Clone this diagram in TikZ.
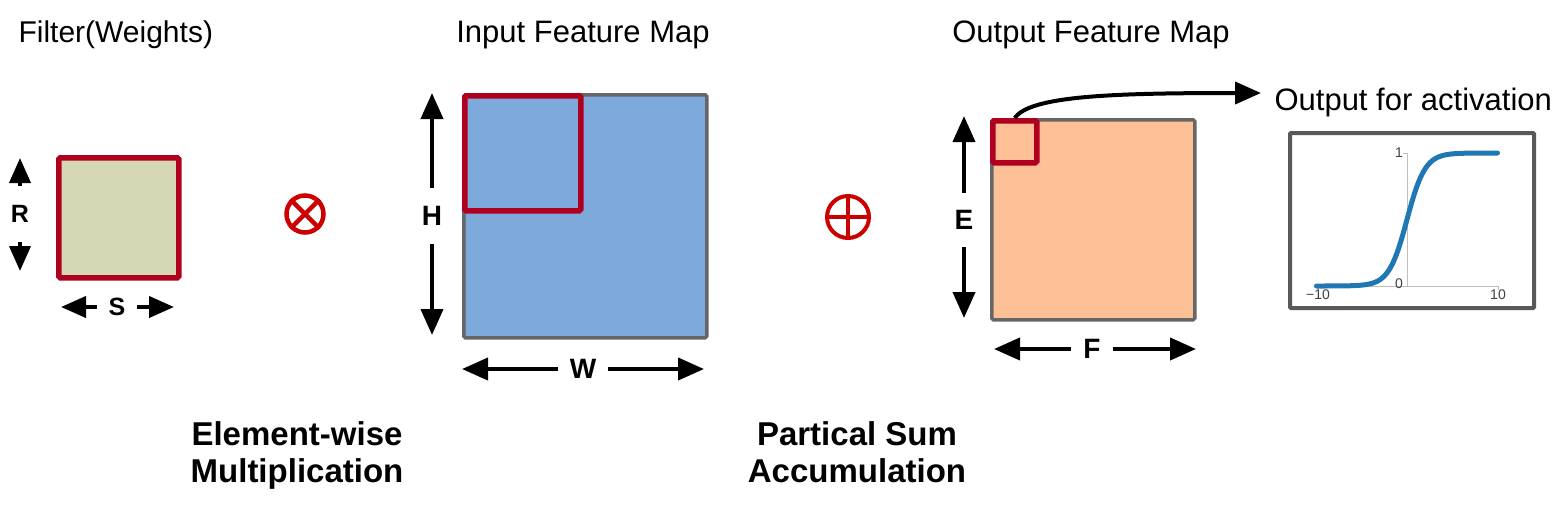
\documentclass[tikz,border=0pt]{standalone}
\usepackage{fontspec}
\setmainfont{Liberation Sans}
\usetikzlibrary{arrows.meta}
\definecolor{winred}{RGB}{176,0,32}
\definecolor{symred}{RGB}{204,0,0}
\definecolor{mapgray}{RGB}{102,102,102}
\definecolor{filterfill}{RGB}{213,216,181}
\definecolor{inputfill}{RGB}{126,169,219}
\definecolor{outputfill}{RGB}{253,191,149}
\definecolor{sigblue}{RGB}{31,119,180}
\tikzset{
  title/.style={font=\fontsize{31}{36}\selectfont, anchor=base},
  caption/.style={font=\fontsize{33}{37}\selectfont\bfseries, align=center, anchor=base},
  dimlabel/.style={font=\fontsize{28}{32}\selectfont\bfseries, inner sep=0pt},
  dim/.style={line width=4pt, -{Triangle[length=26pt,width=22pt]}},
  smalldim/.style={line width=4pt, -{Triangle[length=25pt,width=21pt]}},
  fmap/.style={draw=mapgray, line width=3.5pt, rounded corners=1.5pt, inner sep=0pt, anchor=north west},
  window/.style={draw=winred, line width=5.5pt, rounded corners=1.5pt, inner sep=0pt, anchor=north west},
  opsym/.style={circle, draw=symred, inner sep=0pt},
  ticklabel/.style={font=\fontsize{14}{16}\selectfont, text=black!75, inner sep=1pt}
}
\begin{document}
\begin{tikzpicture}[x=1pt, y=-1pt]
\useasboundingbox (0,0) rectangle (1564,504);
% titles
\node[title, font=\fontsize{30}{36}\selectfont, anchor=base west] (ftitle) at (15,42) {Filter(Weights)};
\node[title] (ititle) at (583,42) {Input Feature Map};
\node[title] (otitle) at (1091,42) {Output Feature Map};
\node[caption] (mulcap) at (297,482) {Element-wise\\Multiplication};
\node[caption] (sumcap) at (857,482) {Partical Sum\\Accumulation};

% filter
\node[window, fill=filterfill, minimum width=120, minimum height=120] (filter) at (56,155) {};
\node[dimlabel, font=\fontsize{25}{30}\selectfont\bfseries, minimum height=56] (R) at (20,214) {R};
\coordinate (Rtop) at (20,158);
\coordinate (Rbot) at (20,271);
\draw[smalldim] (R) -- (Rtop);
\draw[smalldim] (R) -- (Rbot);
\node[dimlabel, font=\fontsize{25}{30}\selectfont\bfseries, minimum width=40] (S) at (117,307) {S};
\coordinate (Sleft) at (61,307);
\coordinate (Sright) at (174,307);
\draw[smalldim] (S) -- (Sleft);
\draw[smalldim] (S) -- (Sright);

% element-wise multiplication
\node[opsym, line width=4.5pt, minimum size=37] (mul) at (305,214) {};
\draw[symred, line width=4.5pt] (mul.north west) -- (mul.south east);
\draw[symred, line width=4.5pt] (mul.north east) -- (mul.south west);

% input feature map
\node[fmap, fill=inputfill, minimum width=243, minimum height=243] (ifmap) at (462,93) {};
\node[window, minimum width=116, minimum height=115] (iwin) at (ifmap.north west) {};
\node[dimlabel, minimum height=56] (H) at (432,216) {H};
\coordinate (Htop) at (432,93);
\coordinate (Hbot) at (432,335);
\draw[dim] (H) -- (Htop);
\draw[dim] (H) -- (Hbot);
\node[dimlabel, minimum width=50] (W) at (583,369) {W};
\coordinate (Wleft) at (462,369);
\coordinate (Wright) at (704,369);
\draw[dim] (W) -- (Wleft);
\draw[dim] (W) -- (Wright);

% partial sum accumulation
\node[opsym, line width=4pt, minimum size=42] (sum) at (848,217) {};
\draw[symred, line width=4pt] (sum.north) -- (sum.south);
\draw[symred, line width=4pt] (sum.west) -- (sum.east);

% output feature map
\node[fmap, fill=outputfill, minimum width=203, minimum height=200] (ofmap) at (990,118) {};
\node[window, minimum width=44, minimum height=42] (owin) at (ofmap.north west) {};
\node[dimlabel, minimum height=54] (E) at (964,220) {E};
\coordinate (Etop) at (964,116);
\coordinate (Ebot) at (964,318);
\draw[dim] (E) -- (Etop);
\draw[dim] (E) -- (Ebot);
\node[dimlabel, minimum width=42] (F) at (1092,349) {F};
\coordinate (Fleft) at (994,349);
\coordinate (Fright) at (1196,349);
\draw[dim] (F) -- (Fleft);
\draw[dim] (F) -- (Fright);

% activation
\node[title, anchor=base west] (acttext) at (1271,110) {Output for activation};
\coordinate (actin) at (1261,93);
\draw[line width=4pt, -{Triangle[length=26pt,width=22pt]}] (owin.north) .. controls (1030,96) and (1110,93) .. (actin);
\node[draw=black!65, line width=4pt, rounded corners=1pt, inner sep=0pt, minimum width=244, minimum height=175, anchor=north west] (plotbox) at (1288,131) {};
\draw[black!25, line width=1pt] (1317,286) -- (1498,286);
\draw[black!25, line width=1pt] (1407,286) -- (1407,153) -- (1403,153);
\draw[black!25, line width=1pt] (1317,286) -- (1317,290);
\draw[black!25, line width=1pt] (1498,286) -- (1498,290);
\draw[sigblue, line width=5pt, line cap=round]
  plot[domain=-10:0, samples=60, smooth] ({1407+9.05*\x}, {286-133*exp(\x)/(1+exp(\x))})
  -- plot[domain=0:10, samples=60, smooth] ({1407+9.05*\x}, {286-133/(1+exp(-\x))});
\node[ticklabel, anchor=east] (tone) at (1404,153) {1};
\node[ticklabel, anchor=east] (tzero) at (1404,284) {0};
\node[ticklabel, anchor=north] (tmin) at (1318,289) {−10};
\node[ticklabel, anchor=north] (tmax) at (1498,289) {10};
\end{tikzpicture}
\end{document}
